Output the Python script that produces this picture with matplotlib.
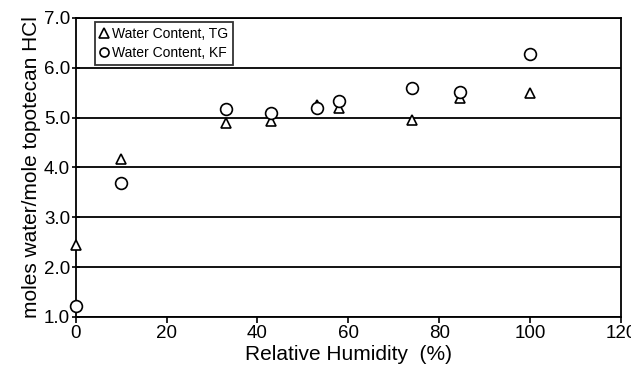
import matplotlib.pyplot as plt
import numpy as np

plt.rcParams['font.family'] = ['Liberation Sans', 'DejaVu Sans']

# relative humidity (%) and water content (mol water / mol topotecan HCl)
rh_tg = [0, 10, 33, 43, 53, 58, 74, 84.5, 100]
water_tg = [2.45, 4.17, 4.90, 4.94, 5.26, 5.20, 4.96, 5.40, 5.50]

rh_kf = [0, 10, 33, 43, 53, 58, 74, 84.5, 100]
water_kf = [1.22, 3.68, 5.18, 5.10, 5.20, 5.33, 5.60, 5.52, 6.28]

fig = plt.figure(figsize=(6.31, 3.72), dpi=100)
ax = fig.add_axes([0.120, 0.148, 0.864, 0.804])

ax.set_axisbelow(True)
ax.grid(axis='y', color='black', linewidth=1.3)

ax.plot(rh_tg, water_tg, linestyle='none', marker='^', markersize=7,
        markerfacecolor='white', markeredgecolor='black', markeredgewidth=1.2,
        label='Water Content, TG', clip_on=False, zorder=3)
ax.plot(rh_kf, water_kf, linestyle='none', marker='o', markersize=8.5,
        markerfacecolor='white', markeredgecolor='black', markeredgewidth=1.2,
        label='Water Content, KF', clip_on=False, zorder=3)

ax.set_xlim(0, 120)
ax.set_ylim(1.0, 7.0)
ax.set_xticks(np.arange(0, 121, 20))
ax.set_yticks(np.arange(1.0, 7.01, 1.0))
ax.set_yticklabels([f'{v:.1f}' for v in np.arange(1.0, 7.01, 1.0)])

for s in ax.spines.values():
    s.set_linewidth(1.3)
    s.set_color('black')
ax.tick_params(axis='both', labelsize=13.5, width=1.2, length=4, color='black')
ax.tick_params(axis='y', direction='inout', length=6, pad=1)
ax.tick_params(axis='x', direction='out', pad=2)

ax.set_xlabel('Relative Humidity  (%)', fontsize=15, labelpad=2)
ax.set_ylabel('moles water/mole topotecan HCl', fontsize=15, labelpad=2)

leg = ax.legend(loc='upper left', bbox_to_anchor=(0.035, 0.985), fontsize=10,
                frameon=True, fancybox=False, edgecolor='black',
                handlelength=0.6, handletextpad=0.3, borderpad=0.35,
                labelspacing=0.35, borderaxespad=0)
leg.get_frame().set_linewidth(1.3)
for h in leg.legend_handles:
    h.set_markersize(6.5)

fig.savefig('out.png', dpi=100)
